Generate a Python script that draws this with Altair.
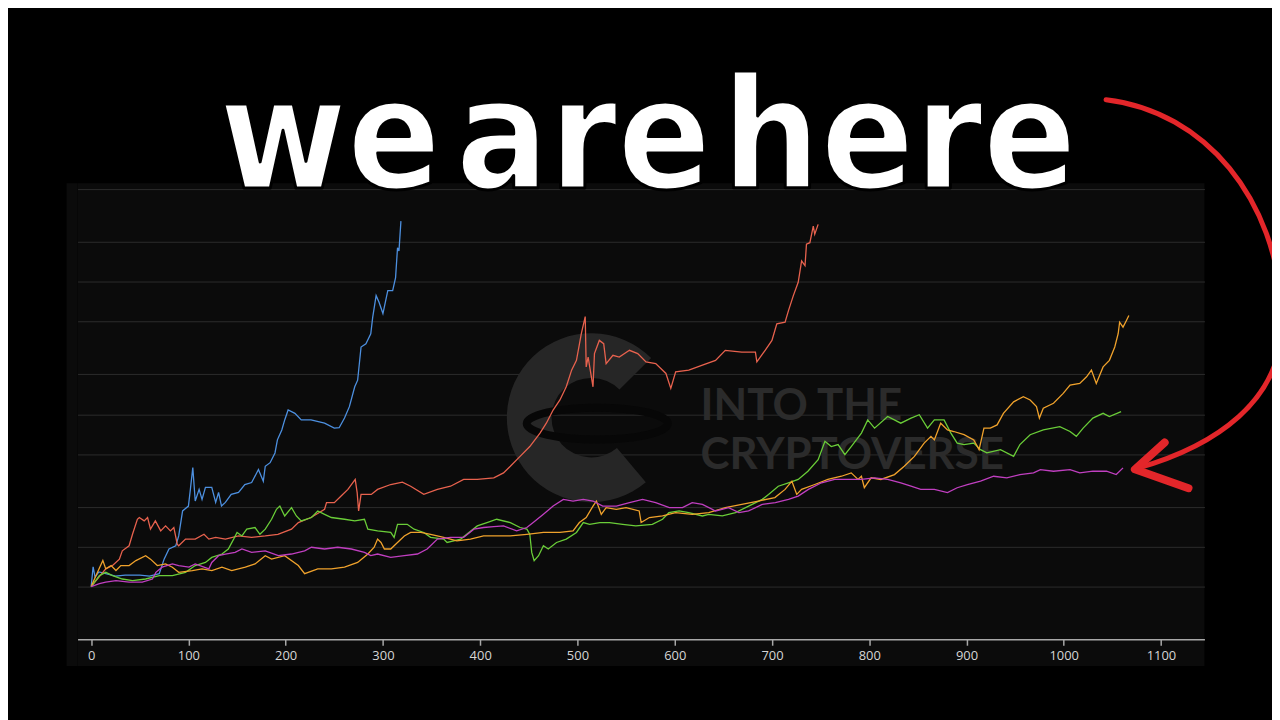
import altair as alt
import pandas as pd

# ---------------- data (day, multiple of start value) ----------------
blue = [(0,1.0),(2,1.41),(4,1.18),(8,1.29),(15,1.25),(25,1.20),(35,1.22),(50,1.22),(60,1.20),(70,1.25),
        (75,1.61),(80,1.92),(87,2.03),(90,2.41),(94,3.72),(100,4.05),(102,5.41),(104.5,7.91),(107,4.42),(111,5.41),
        (114,4.55),(117.5,5.6),(124,5.6),(128,4.32),(131,5.13),(134,4.05),(138,4.32),(144,4.96),(151.5,5.13),(158,5.89),
        (165,6.1),(172,7.64),(177,6.24),(179,8.09),(184,8.61),(189,10.2),(191.5,12.8),(196,15.2),(199,18.1),(202.5,21.5),
        (209.5,20.3),(216,18.1),(226,18.1),(240,17.1),(250,15.7),(255,15.8),(260.5,18.7),(265.5,22.8),(271,32.2),(274,36.1),
        (277.5,64.3),(282.5,68.1),(287.5,81),(289.5,108),(293,157),(296,140),(300,115),(305,171),(310,171),(313,215),
        (315,361),(316.5,341),(318.5,573)]

red = [(0,1.0),(15,1.36),(22,1.44),(29,1.61),(32,1.86),(39,2.03),(42.5,2.48),(47.5,3.22),(49.5,3.32),(54.5,3.13),
       (58,3.32),(61,2.71),(66,3.13),(71.5,2.63),(76.5,2.87),(81.5,2.63),(85,2.79),(88.5,2.09),(90,2.03),(97,2.28),
       (107,2.28),(116,2.48),(121,2.28),(128,2.35),(138,2.28),(151.5,2.41),(165,2.35),(179,2.41),(192,2.48),(206,2.71),
       (213,3.04),(226,3.32),(240,3.83),(242,4.30),(250,4.30),(257,4.82),(264,5.41),(271.5,6.43),(273.5,5.11),(275,3.72),
       (277.5,4.96),(288,4.96),(294.5,5.41),(308,5.89),(320,6.14),(328.5,5.72),(342,4.96),(356,5.41),(369.5,5.72),(383,6.43),
       (397,6.43),(414,6.62),(424,7.21),(431,8.09),(441,9.61),(451,11.4),(461.5,14.4),(468,17.1),(475,21.5),(482,25.6),
       (488.5,32.2),(494,43),(499,51),(504,81),(508,109),(509,45.5),(511,54),(516,32.2),(517.5,57.3),(522.5,72.1),
       (527,68.1),(529.5,48.2),(536.5,55.7),(543,54),(553.5,60.7),(562,57.3),(570.5,49.6),(580.5,48.2),(591,40.6),(596,31.3),
       (601,41.7),(614.5,43),(628.5,46.9),(642,51),(652,60.7),(669,58.9),(683,58.9),(684.5,49.6),(693,60.7),(700,72.1),
       (705,96.2),(713.5,99),(717,121),(722,157),(727,198),(730.5,287),(734,264),(735.5,384),(739,394),(742.5,526),
       (744,456),(747.5,542)]

green = [(0,1.0),(8.5,1.21),(15,1.28),(22,1.21),(32,1.14),(42.5,1.11),(56,1.14),(70,1.21),(83.5,1.21),(97,1.28),
         (107,1.44),(117.5,1.52),(124,1.66),(134.5,1.76),(141,1.92),(146.5,2.28),(150,2.56),(155,2.41),(160,2.71),(168.5,2.79),
         (173.5,2.48),(179,2.71),(185.5,3.22),(190.5,3.83),(194,4.05),(199,3.41),(206,3.94),(211,3.41),(216,3.13),(226.5,3.32),
         (233,3.72),(240,3.51),(247,3.32),(260.5,3.22),(271,3.13),(281,3.22),(284.5,2.71),(294.5,2.63),(308,2.56),(311.5,2.35),
         (315,2.95),(325,2.95),(332,2.71),(342,2.56),(349,2.35),(362.5,2.28),(366,2.15),(380,2.28),(397,2.87),(407,3.04),
         (417,3.22),(431,3.04),(441,2.79),(448,2.71),(451,2.48),(453,1.81),(455.5,1.57),(460,1.71),(465,2.03),(470,1.92),
         (478.5,2.15),(488.5,2.28),(499,2.56),(506,3.04),(512.5,2.95),(523,3.04),(533,3.04),(546.5,2.95),(560,2.87),(577,2.95),
         (587.5,3.22),(594,3.61),(604.5,3.72),(614.5,3.61),(628.5,3.41),(635,3.51),(649,3.41),(662.5,3.61),(676,4.05),(690,4.55),
         (696.5,4.96),(706.5,5.72),(717,6.07),(727,6.43),(737,7.42),(747.5,9.08),(754.5,12.5),(761,11.4),(768,11.8),(775,9.9),
         (781.5,11.4),(792,14.4),(798.5,18.1),(805.5,15.7),(819,19.2),(832.5,17.1),(843,18.7),(851.5,19.8),(860,15.7),(867,18.1),
         (877,18.1),(884,14.4),(890.5,12.1),(897.5,11.8),(907.5,12.1),(914.5,10.8),(921,10.2),(935,10.8),(948.5,9.61),(955,11.8),
         (965.5,14),(979,15.2),(996,16.1),(1006.5,14.8),(1013,13.6),(1020,15.7),(1030,18.7),(1040.5,20.3),(1047,19.2),(1059,20.9)]

orange = [(0,1.0),(6.5,1.28),(12,1.57),(15,1.36),(20.5,1.44),(25.5,1.32),(30.5,1.44),(39,1.44),(46,1.57),(56,1.71),
          (61,1.61),(68,1.44),(76.5,1.48),(83.5,1.40),(90,1.28),(104,1.32),(114,1.36),(124,1.32),(134.5,1.40),(144.5,1.32),
          (158.5,1.40),(168.5,1.48),(179,1.71),(185.5,1.61),(199,1.71),(213,1.44),(219.5,1.25),(233,1.36),(247,1.36),(260.5,1.40),
          (274,1.52),(284.5,1.76),(291,1.98),(294.5,2.28),(298,2.15),(301.5,1.92),(308,1.92),(315,2.15),(322,2.41),(328.5,2.56),
          (339,2.56),(349,2.48),(362.5,2.35),(376,2.21),(390,2.28),(403.5,2.41),(414,2.41),(431,2.41),(448,2.48),(465,2.56),
          (482,2.56),(495.5,2.63),(502,3.04),(509,3.32),(516,4.05),(519.5,4.42),(524.5,3.51),(529.5,3.94),(540,3.83),(550,3.94),
          (563.5,3.72),(565.5,3.04),(574,3.32),(587.5,3.41),(601,3.61),(618,3.51),(635,3.61),(652,3.94),(669,4.17),(686,4.42),
          (703,4.69),(713.5,5.41),(720.5,6.24),(725.5,4.96),(730.5,5.41),(744,5.89),(757.5,6.43),(771.5,6.80),(781.5,7.21),(788.5,6.43),
          (792,6.80),(795,5.57),(802,6.62),(812,6.43),(826,7.0),(836,8.09),(846.5,9.61),(856.5,12.1),(863.5,13.6),(867,12.8),
          (873.5,17.1),(880.5,15.2),(887,14.8),(897.5,14.0),(907.5,12.8),(913,10.8),(918,15.7),(924.5,15.7),(931.5,16.6),(938,20.3),
          (948.5,24.8),(958.5,27.1),(965.5,25.6),(972,22.8),(975,18.7),(979,22.2),(989.5,24.2),(999.5,28.7),(1006.5,33.2),(1016.5,34.1),
          (1023.5,38.3),(1028.5,43),(1033.5,34.1),(1040.5,45.5),(1047,51),(1052.5,64.3),(1056,81),(1057.5,99),(1061,90.8),(1064.5,102),
          (1067,111)]

magenta = [(0,1.0),(8.5,1.05),(15,1.08),(25.5,1.11),(39,1.08),(52.5,1.08),(63,1.14),(66.5,1.28),(73,1.40),(83.5,1.48),
           (90,1.44),(100.5,1.40),(107,1.48),(121,1.36),(124,1.52),(131,1.71),(138,1.76),(148,1.81),(155,1.92),(165,1.81),
           (179,1.86),(192.5,1.71),(206,1.76),(219.5,1.86),(226.5,1.98),(240,1.92),(253.5,1.98),(267.5,1.92),(281,1.81),(287.5,1.71),
           (294.5,1.76),(308,1.66),(322,1.71),(335.5,1.76),(345.5,1.92),(356,2.28),(369.5,2.35),(383,2.35),(393.5,2.71),(403.5,2.79),
           (414,2.83),(424,2.87),(437.5,2.63),(448,2.79),(454.5,3.04),(465,3.51),(475,4.05),(485.5,4.55),(495.5,4.42),(506,4.55),
           (516,4.42),(526,4.05),(540,4.05),(553.5,4.30),(567,4.55),(580.5,4.30),(594.5,3.94),(608,3.94),(618,4.30),(628.5,4.17),
           (642,3.72),(655.5,3.94),(666,3.61),(676,3.72),(690,4.17),(703.5,4.30),(717,4.55),(727,4.82),(737.5,5.41),(751,6.07),
           (764.5,6.43),(778,6.43),(792,6.43),(805.5,6.62),(819,6.43),(832.5,6.07),(843,5.72),(853,5.41),(867,5.41),(880.5,5.11),
           (890.5,5.57),(901,5.89),(914.5,6.24),(928,6.80),(941.5,6.62),(955,7.0),(969,7.21),(976,7.64),(989.5,7.42),(1006.5,7.64),
           (1016.5,7.21),(1030,7.42),(1044,7.42),(1054,7.0),(1061,7.87)]

series_names = ["Cycle 1", "Cycle 2", "Cycle 3", "Cycle 4", "Cycle 5"]
series_data = [blue, red, green, orange, magenta]
series_colors = ["#4d90e0", "#e8624e", "#6acd38", "#f0a22c", "#c03fc0"]

x_ticks = list(range(0, 1101, 100))
y_grid = [1, 2, 4, 10, 20, 40, 100, 200, 400, 1000]

rows = []
for name, pts in zip(series_names, series_data):
    for d, v in pts:
        rows.append({"day": d, "value": v, "series": name})
df = pd.DataFrame(rows)

one = pd.DataFrame({"k": [0]})

W, H = 1134, 453

# ---------------- panel strips outside the plot area ----------------
def strip(x1, x2, y1, y2):
    return alt.Chart(one).mark_rect(color="#0b0b0b").encode(
        x=alt.value(x1), x2=alt.value(x2), y=alt.value(y1), y2=alt.value(y2))

panel = [strip(-11, 0, -6, 480), strip(0, W, -6, 0), strip(0, W, H, 480)]

# ---------------- watermark ----------------
logo = alt.Chart(one).mark_arc(radius=85, radius2=40, theta=2.44, theta2=7.07,
                               color="#262626").encode(x=alt.value(517), y=alt.value(230))
ring = alt.Chart(one).mark_point(
    shape="M -71 0 A 71 16 0 1 1 71 0 A 71 16 0 1 1 -71 0 Z",
    size=4, filled=False, stroke="#070707", strokeWidth=8, opacity=1
).encode(x=alt.value(523), y=alt.value(236))
wm1 = alt.Chart(one).mark_text(text="INTO THE", font="Lato", fontWeight="bold", fontSize=44,
                               color="#2b2b2b", align="left", baseline="alphabetic"
                               ).encode(x=alt.value(627), y=alt.value(232))
wm2 = alt.Chart(one).mark_text(text="CRYPTOVERSE", font="Lato", fontWeight="bold", fontSize=44,
                               color="#2b2b2b", align="left", baseline="alphabetic"
                               ).encode(x=alt.value(627), y=alt.value(282))

# ---------------- lines ----------------
lines = alt.Chart(df).mark_line(strokeWidth=1.3).encode(
    x=alt.X("day:Q",
            scale=alt.Scale(domain=[-14, 1144.7], nice=False, zero=False),
            axis=alt.Axis(values=x_ticks, format="d", title=None, grid=False, domainColor="#a8a8a8",
                          domainWidth=1.5, tickColor="#a8a8a8", tickSize=6, tickWidth=1.5,
                          labelColor="#d6d6d6", labelFontSize=13, labelFont="Open Sans",
                          labelPadding=4, labelFlush=False, zindex=1)),
    y=alt.Y("value:Q",
            scale=alt.Scale(type="log", domain=[0.4, 1000], nice=False),
            axis=alt.Axis(values=y_grid, labels=False, ticks=False, domain=False, grid=True,
                          gridColor="#2c2c2c", gridWidth=1, title=None)),
    color=alt.Color("series:N", scale=alt.Scale(domain=series_names, range=series_colors), legend=None),
)

# ---------------- headline (white with black outline) ----------------
TITLE_FONT = "DejaVu Sans Condensed"
TITLE_SIZE = 155
words = [("we", 254), ("are", 509), ("here", 827)]
title_layers = []
for w, cx in words:
    title_layers.append(alt.Chart(one).mark_text(
        text=w, font=TITLE_FONT, fontWeight="bold", fontSize=TITLE_SIZE, color="#ffffff",
        stroke="#000000", strokeWidth=3, strokeJoin="round",
        align="center", baseline="alphabetic").encode(x=alt.value(cx), y=alt.value(-1)))

# ---------------- red hand-drawn arrow ----------------
arrow = alt.Chart(one).mark_point(
    shape="M 1035 -90 C 1135 -78 1207 10 1212 125 C 1217 215 1140 260 1066 281",
    size=4, filled=False, stroke="#e3262a", strokeWidth=5, strokeCap="round",
    strokeJoin="round", opacity=1).encode(x=alt.value(0), y=alt.value(0))
arrow_head = alt.Chart(one).mark_point(
    shape="M 1094 255 L 1064 282 L 1118 301",
    size=4, filled=False, stroke="#e3262a", strokeWidth=8, strokeCap="round",
    strokeJoin="round", opacity=1).encode(x=alt.value(0), y=alt.value(0))

chart = alt.layer(*panel, logo, ring, wm1, wm2, lines, *title_layers, arrow, arrow_head).properties(
    width=W, height=H,
    padding={"left": 70, "top": 180, "right": 68, "bottom": 79},
    autosize=alt.AutoSizeParams(type="none"),
    background="#000000",
).configure_view(fill="#0b0b0b", strokeWidth=0)

chart.save("out.html", embed_options={"renderer": "svg", "actions": False})
